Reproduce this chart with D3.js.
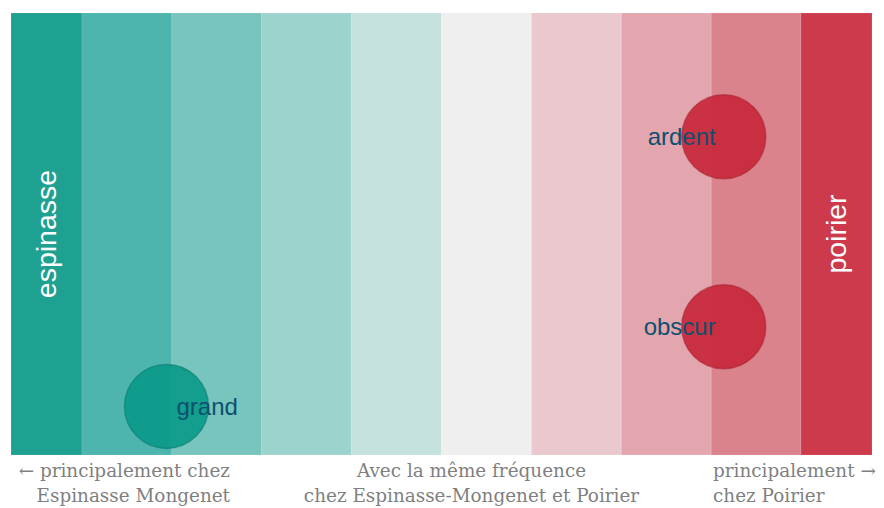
<!DOCTYPE html>
<html>
<head>
<meta charset="utf-8">
<script src="https://cdn.jsdelivr.net/npm/d3@7"></script>
<style>
  body { margin: 0; background: #fff; }
  svg { display: block; }
</style>
</head>
<body>
<div id="chart"></div>
<script>
// band limits on the score axis (negative = Espinasse Mongenet, positive = Poirier)
var bandEdges = [-4.79, -4, -3, -2, -1, 0, 1, 2, 3, 4, 4.79]
var bandColors = ["#1fa192", "#4db5ad", "#77c5bc", "#9dd3cd", "#c6e2df",
                  "#efefef", "#e9c9ce", "#e3a6ae", "#db838d", "#cc3a4b"]

var words = ["grand", "ardent", "obscur"]
var wordScore = [-3.06, 3.14, 3.14]
var wordPos = [0.89, 0.28, 0.71]

var authors = ["espinasse", "poirier"]
var bottomLeft = ["\u2190 principalement chez", "Espinasse Mongenet"]
var bottomMid = ["Avec la même fréquence", "chez Espinasse-Mongenet et Poirier"]
var bottomRight = ["principalement \u2192", "chez Poirier"]

var W = 884, H = 508
var margin = {top: 13, right: 12, bottom: 53, left: 11}
var width = W - margin.left - margin.right,
    height = H - margin.top - margin.bottom

var svg = d3.select("#chart").append("svg")
    .attr("width", W)
    .attr("height", H)

var g = svg.append("g")
    .attr("transform", "translate(" + margin.left + "," + margin.top + ")")

var x = d3.scaleLinear()
    .domain([bandEdges[0], bandEdges[bandEdges.length - 1]])
    .range([0, width])

var y = d3.scaleLinear()
    .domain([0, 1])
    .range([0, height])

var bands = d3.pairs(bandEdges)

g.append("g").selectAll("rect")
  .data(bands)
  .enter()
  .append("rect")
    .attr("x", function(d) { return x(d[0]) })
    .attr("y", 0)
    .attr("width", function(d) { return x(d[1]) - x(d[0]) })
    .attr("height", height)
    .attr("fill", function(d, i) { return bandColors[i] })
    .attr("stroke", "#fff")
    .attr("stroke-opacity", 0.12)

// author names, rotated, in the two outer bands
var outer = [bands[0], bands[bands.length - 1]]
g.selectAll(".author")
  .data(authors)
  .enter()
  .append("text")
    .attr("class", "author")
    .attr("transform", function(d, i) {
      var cx = (x(outer[i][0]) + x(outer[i][1])) / 2
      return "translate(" + cx + "," + height / 2 + ") rotate(-90)"
    })
    .attr("text-anchor", "middle")
    .attr("dy", "0.35em")
    .attr("fill", "#fff")
    .style("font-family", "Liberation Sans, Arial, sans-serif")
    .style("font-size", "28.5px")
    .text(function(d) { return d })

var dots = words.map(function(w, i) { return {word: w, score: wordScore[i], pos: wordPos[i]} })

g.selectAll(".dot")
  .data(dots)
  .enter()
  .append("circle")
    .attr("class", "dot")
    .attr("cx", function(d) { return x(d.score) })
    .attr("cy", function(d) { return y(d.pos) })
    .attr("r", 42)
    .attr("fill", function(d) { return d.score < 0 ? "#0b9a89" : "#c8283b" })
    .attr("fill-opacity", 0.92)
    .attr("stroke", function(d) { return d.score < 0 ? "#0a7c6f" : "#a82232" })
    .attr("stroke-opacity", 0.6)
    .attr("stroke-width", 1.5)

g.selectAll(".word")
  .data(dots)
  .enter()
  .append("text")
    .attr("class", "word")
    .attr("x", function(d) { return x(d.score) + (d.score < 0 ? 10 : -8) })
    .attr("y", function(d) { return y(d.pos) })
    .attr("dy", "0.35em")
    .attr("text-anchor", function(d) { return d.score < 0 ? "start" : "end" })
    .attr("fill", "#0d4f6e")
    .style("font-family", "Liberation Sans, Arial, sans-serif")
    .style("font-size", "24px")
    .text(function(d) { return d.word })

// captions under the bands
var captions = [
  {lines: bottomLeft, x: 230 - margin.left, anchor: "end"},
  {lines: bottomMid, x: x(0) + 30, anchor: "middle"},
  {lines: bottomRight, x: 713 - margin.left, anchor: "start"}
]

captions.forEach(function(c) {
  var t = g.append("text")
      .attr("text-anchor", c.anchor)
      .attr("fill", "#7f7f7f")
      .style("font-family", "Georgia, DejaVu Serif, serif")
      .style("font-size", "18.4px")
  c.lines.forEach(function(l, i) {
    t.append("tspan")
      .attr("x", c.x)
      .attr("y", height + 22 + i * 25)
      .text(l)
  })
})
</script>
</body>
</html>
